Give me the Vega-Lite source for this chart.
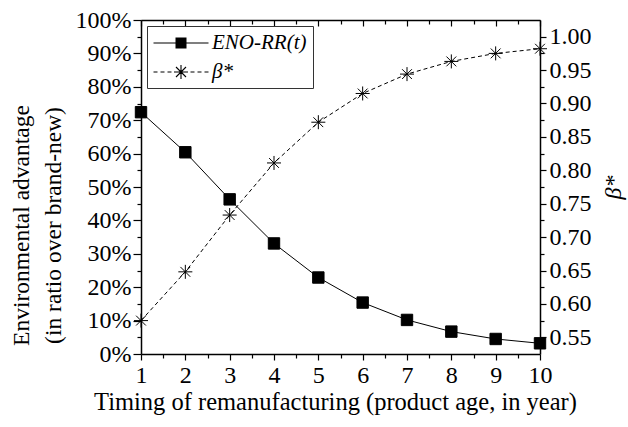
{
  "$schema": "https://vega.github.io/schema/vega-lite/v6.json",
  "autosize": {"type": "none"},
  "padding": {"left": 141, "top": 20, "right": 88, "bottom": 73},
  "width": 399,
  "height": 334,
  "background": "white",
  "config": {
    "font": "Liberation Serif",
    "view": {"stroke": null},
    "axis": {"labelFont": "Liberation Serif", "titleFont": "Liberation Serif", "labelFontSize": 24, "titleFontSize": 24, "titleFontWeight": "normal", "labelColor": "black", "titleColor": "black", "domainColor": "black", "tickColor": "black", "grid": false, "domainWidth": 1.5, "tickWidth": 1.2},
    "legend": {"labelFont": "Liberation Serif"}
  },
  "data": {"values": [
    {"t": 1, "series": "ENO-RR(t)", "value": 0.724},
    {"t": 2, "series": "ENO-RR(t)", "value": 0.604},
    {"t": 3, "series": "ENO-RR(t)", "value": 0.463},
    {"t": 4, "series": "ENO-RR(t)", "value": 0.331},
    {"t": 5, "series": "ENO-RR(t)", "value": 0.229},
    {"t": 6, "series": "ENO-RR(t)", "value": 0.154},
    {"t": 7, "series": "ENO-RR(t)", "value": 0.102},
    {"t": 8, "series": "ENO-RR(t)", "value": 0.067},
    {"t": 9, "series": "ENO-RR(t)", "value": 0.045},
    {"t": 10, "series": "ENO-RR(t)", "value": 0.032},
    {"t": 1, "series": "β*", "value": 0.575},
    {"t": 2, "series": "β*", "value": 0.648},
    {"t": 3, "series": "β*", "value": 0.733},
    {"t": 4, "series": "β*", "value": 0.811},
    {"t": 5, "series": "β*", "value": 0.872},
    {"t": 6, "series": "β*", "value": 0.915},
    {"t": 7, "series": "β*", "value": 0.944},
    {"t": 8, "series": "β*", "value": 0.963},
    {"t": 9, "series": "β*", "value": 0.975},
    {"t": 10, "series": "β*", "value": 0.982}
  ]},
  "layer": [
    {
      "transform": [{"filter": "datum.series === 'ENO-RR(t)'"}],
      "mark": {"type": "line", "color": "black", "strokeWidth": 1},
      "encoding": {
        "x": {"field": "t", "type": "quantitative", "scale": {"domain": [1, 10], "nice": false, "zero": false},
              "axis": {"orient": "bottom", "values": [1,2,3,4,5,6,7,8,9,10], "format": "d", "tickSize": 6, "labelPadding": 3, "labelFont": "Liberation Serif", "labelFontSize": 24, "titleFont": "Liberation Serif", "titleFontSize": 24.5, "title": "Timing of remanufacturing (product age, in year)", "titlePadding": 3, "titleX": 194, "labelFlush": false}},
        "y": {"field": "value", "type": "quantitative", "scale": {"domain": [0, 1], "nice": false},
              "axis": {"orient": "left", "values": [0,0.1,0.2,0.3,0.4,0.5,0.6,0.7,0.8,0.9,1], "format": ".0%", "tickSize": 8, "labelPadding": 2, "labelFont": "Liberation Serif", "labelFontSize": 24, "titleFont": "Liberation Serif", "titleFontSize": 23.5, "title": ["Environmental advantage", "(in ratio over brand-new)"], "titlePadding": 10, "titleLineHeight": 32, "titleY": 205, "labelFlush": false}}
      }
    },
    {
      "transform": [{"filter": "datum.series === 'ENO-RR(t)'"}],
      "mark": {"type": "point", "shape": "square", "filled": true, "fill": "black", "stroke": "black", "strokeWidth": 1, "opacity": 1, "size": 130},
      "encoding": {
        "x": {"field": "t", "type": "quantitative", "scale": {"domain": [1, 10], "nice": false, "zero": false},
              "axis": {"orient": "bottom", "values": [1.5,2.5,3.5,4.5,5.5,6.5,7.5,8.5,9.5], "labels": false, "domain": false, "tickSize": 4, "title": null}},
        "y": {"field": "value", "type": "quantitative", "scale": {"domain": [0, 1], "nice": false},
              "axis": {"orient": "left", "values": [0.05,0.15,0.25,0.35,0.45,0.55,0.65,0.75,0.85,0.95], "labels": false, "domain": false, "tickSize": 4, "title": null}}
      }
    },
    {
      "transform": [{"filter": "datum.series === 'β*'"}],
      "mark": {"type": "line", "color": "black", "strokeWidth": 1, "strokeDash": [4, 3]},
      "encoding": {
        "x": {"field": "t", "type": "quantitative", "scale": {"domain": [1, 10], "nice": false, "zero": false},
              "axis": {"orient": "top", "values": [1,2,3,4,5,6,7,8,9,10], "labels": false, "tickSize": -6, "title": null}},
        "y": {"field": "value", "type": "quantitative", "scale": {"domain": [0.525, 1.025], "nice": false, "zero": false},
              "axis": {"orient": "right", "values": [0.55,0.6,0.65,0.7,0.75,0.8,0.85,0.9,0.95,1.0], "format": ".2f", "tickSize": 6, "labelPadding": 3, "labelFont": "Liberation Serif", "labelFontSize": 24, "titleFont": "Liberation Serif", "title": "β*", "titleFontStyle": "italic", "titleFontSize": 24, "titlePadding": 10, "titleAngle": -90, "titleBaseline": "top", "labelFlush": false}}
      }
    },
    {
      "transform": [{"filter": "datum.series === 'β*'"}],
      "mark": {"type": "point", "shape": "M-1,0H1M0,-1V1M-0.7,-0.7L0.7,0.7M-0.7,0.7L0.7,-0.7", "filled": true, "fill": "black", "stroke": "black", "strokeWidth": 1, "opacity": 1, "size": 196},
      "encoding": {
        "x": {"field": "t", "type": "quantitative", "scale": {"domain": [1, 10], "nice": false, "zero": false},
              "axis": {"orient": "top", "values": [1.5,2.5,3.5,4.5,5.5,6.5,7.5,8.5,9.5], "labels": false, "domain": false, "tickSize": -4, "title": null}},
        "y": {"field": "value", "type": "quantitative", "scale": {"domain": [0.525, 1.025], "nice": false, "zero": false},
              "axis": {"orient": "right", "values": [0.575,0.625,0.675,0.725,0.775,0.825,0.875,0.925,0.975], "labels": false, "domain": false, "tickSize": 4, "title": null}}
      }
    },
    {
      "mark": {"type": "point", "filled": false, "color": "black", "stroke": "black", "strokeWidth": 1.1, "opacity": 0},
      "encoding": {
        "x": {"field": "t", "type": "quantitative", "scale": {"domain": [1, 10], "nice": false, "zero": false}, "axis": null},
        "y": {"field": "value", "type": "quantitative", "scale": {"domain": [0, 1], "nice": false}, "axis": null},
        "shape": {"field": "series", "type": "nominal",
                  "scale": {"domain": ["ENO-RR(t)", "β*"], "range": ["M-2.75,0H2.75M-0.55,-0.5H0.55M-0.55,-0.4H0.55M-0.55,-0.3H0.55M-0.55,-0.2H0.55M-0.55,-0.1H0.55M-0.55,0.1H0.55M-0.55,0.2H0.55M-0.55,0.3H0.55M-0.55,0.4H0.55M-0.55,0.5H0.55", "M-2.75,0H-2.35M-2.05,0H-1.65M-1.35,0H-0.95M0.95,0H1.35M1.65,0H2.05M2.35,0H2.75M-0.7,0H0.7M0,-0.7V0.7M-0.5,-0.5L0.5,0.5M-0.5,0.5L0.5,-0.5"]},
                  "legend": {
                    "orient": "top-left", "offset": 6, "title": null,
                    "strokeColor": "#333", "fillColor": "white", "padding": 6, "cornerRadius": 0,
                    "symbolSize": 400, "symbolOffset": 17, "symbolStrokeWidth": 1.1, "symbolFillColor": "transparent", "symbolStrokeColor": "black", "symbolOpacity": 1,
                    "labelFont": "Liberation Serif", "labelFontSize": 21, "labelFontStyle": "italic", "labelColor": "black", "labelOffset": 20, "rowPadding": 8
                  }}
      }
    }
  ],
  "resolve": {"scale": {"y": "independent"}, "axis": {"x": "independent", "y": "independent"}}
}
